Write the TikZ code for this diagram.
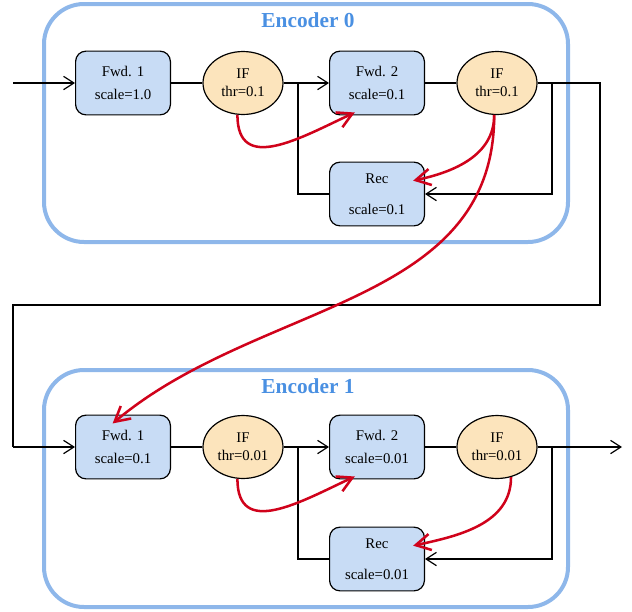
\documentclass[tikz,border=0pt]{standalone}
\usepackage{fontspec}
\setmainfont{Liberation Serif}
\usetikzlibrary{arrows.meta,shapes.geometric}
\definecolor{framecol}{RGB}{142,183,234}
\definecolor{titlecol}{RGB}{74,144,226}
\definecolor{blockcol}{RGB}{200,220,245}
\definecolor{spikecol}{RGB}{252,228,188}
\definecolor{redcol}{RGB}{208,2,27}
\begin{document}
\begin{tikzpicture}
[
x=0.675pt, y=-0.675pt,
Frame/.style={draw=framecol, line width=2.7pt, rounded corners=27pt},
Title/.style={text=titlecol, font=\Large\bfseries},
Block/.style={rectangle, rounded corners=7pt, draw=black, fill=blockcol, thick, minimum width=64pt, minimum height=43pt, align=center},
Spike/.style={ellipse, draw=black, fill=spikecol, thick, minimum width=54pt, minimum height=42.5pt, inner sep=0pt, align=center},
Wire/.style={-, draw=black, thick},
Wirearrow/.style={-{Straight Barb[length=7pt,width=9pt]}, draw=black, thick},
Skip/.style={-{Straight Barb[length=10pt,width=11pt]}, draw=redcol, line width=1.7pt}
]

\useasboundingbox (0,0) rectangle (632,612);

% encoder frames
\draw[Frame] (44,4) rectangle (568,242);
\draw[Frame] (44,370) rectangle (568,607);
\node[Title] (titlea) at (308,20) {Encoder 0};
\node[Title] (titleb) at (308,386) {Encoder 1};

% encoder 0
\node[Block] (fwdaa) at (123,83) {Fwd. 1\\[3pt] scale=1.0};
\node[Spike] (ifaa) at (243,83) {IF\\ thr=0.1};
\node[Block] (fwdab) at (377,83) {Fwd. 2\\[3pt] scale=0.1};
\node[Spike] (ifab) at (497,83) {IF\\ thr=0.1};
\node[Block] (reca) at (377,194) {Rec\\[9pt] scale=0.1};

% encoder 1
\node[Block] (fwdba) at (123,447) {Fwd. 1\\[3pt] scale=0.1};
\node[Spike] (ifba) at (243,447) {IF\\ thr=0.01};
\node[Block] (fwdbb) at (377,447) {Fwd. 2\\[3pt] scale=0.01};
\node[Spike] (ifbb) at (497,447) {IF\\ thr=0.01};
\node[Block] (recb) at (377,559) {Rec\\[9pt] scale=0.01};

% junctions and corners
\coordinate (in) at (13,83);
\coordinate (out) at (622,447);
\coordinate (joinaa) at (298,83);
\coordinate (joinab) at (552,83);
\coordinate (joinba) at (298,447);
\coordinate (joinbb) at (552,447);
\coordinate (turna) at (600,83);
\coordinate (turnb) at (600,305);
\coordinate (turnc) at (13,305);
\coordinate (turnd) at (13,447);

% black wires
\draw[Wirearrow] (in) -- (fwdaa.west);
\draw[Wire] (fwdaa.east) -- (ifaa.west);
\draw[Wirearrow] (ifaa.east) -- (fwdab.west);
\draw[Wire] (fwdab.east) -- (ifab.west);
\draw[Wire] (reca.west) -| (joinaa);
\draw[Wirearrow] (joinab) |- (reca.east);
\draw[Wire] (ifab.east) -- (turna) -- (turnb) -- (turnc) -- (turnd);
\draw[Wirearrow] (turnd) -- (fwdba.west);

\draw[Wire] (fwdba.east) -- (ifba.west);
\draw[Wirearrow] (ifba.east) -- (fwdbb.west);
\draw[Wire] (fwdbb.east) -- (ifbb.west);
\draw[Wire] (recb.west) -| (joinba);
\draw[Wirearrow] (joinbb) |- (recb.east);
\draw[Wirearrow] (ifbb.east) -- (out);

% red skip arrows
\draw[Skip] (ifaa.260) to[out=-90, in=205, looseness=1.3] ([xshift=-15pt, yshift=2pt]fwdab.south);
\draw[Skip] (ifab.265) to[out=-90, in=12] ([xshift=-8pt, yshift=9pt]reca.east);
\draw[Skip] (ifab.265) to[out=-90, in=40] ([xshift=-7pt, yshift=-6pt]fwdba.north);
\draw[Skip] (ifba.260) to[out=-90, in=205, looseness=1.3] ([xshift=-15pt, yshift=2pt]fwdbb.south);
\draw[Skip] (ifbb.295) to[out=-90, in=12] ([xshift=-8pt, yshift=9pt]recb.east);
\end{tikzpicture}
\end{document}
